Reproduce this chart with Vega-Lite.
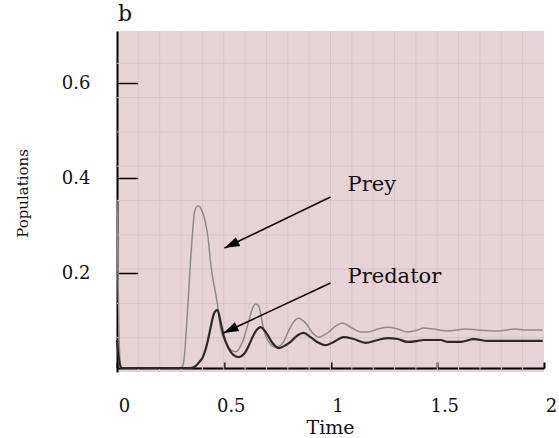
{
  "$schema": "https://vega.github.io/schema/vega-lite/v6.json",
  "width": 427,
  "height": 341,
  "autosize": {"type": "none"},
  "padding": {"left": 117, "top": 31, "right": 15, "bottom": 66},
  "background": "white",
  "title": {"text": "b", "anchor": "start", "frame": "group", "font": "DejaVu Serif", "fontSize": 22, "fontWeight": "normal", "color": "#111", "offset": 5, "dx": 1},
  "config": {
    "view": {"fill": "#e6d3d5", "stroke": null}
  },
  "datasets": {
    "vgrid": [{"g":0.1},{"g":0.2},{"g":0.3},{"g":0.4},{"g":0.5},{"g":0.6},{"g":0.7},{"g":0.8},{"g":0.9},{"g":1.0},{"g":1.1},{"g":1.2},{"g":1.3},{"g":1.4},{"g":1.5},{"g":1.6},{"g":1.7},{"g":1.8},{"g":1.9}],
    "hgrid": [{"h":0.0638},{"h":0.1360},{"h":0.2082},{"h":0.2804},{"h":0.3526},{"h":0.4248},{"h":0.4971},{"h":0.5693},{"h":0.6415}],
    "prey": [
      {"t":0,"v":0.354},{"t":0.004,"v":0.227},{"t":0.009,"v":0.08},{"t":0.014,"v":0.017},{"t":0.021,"v":0.0},
      {"t":0.297,"v":0.0},{"t":0.307,"v":0.004},{"t":0.316,"v":0.027},{"t":0.325,"v":0.084},{"t":0.335,"v":0.154},
      {"t":0.344,"v":0.223},{"t":0.353,"v":0.28},{"t":0.361,"v":0.322},{"t":0.372,"v":0.339},{"t":0.382,"v":0.341},
      {"t":0.396,"v":0.333},{"t":0.414,"v":0.307},{"t":0.428,"v":0.269},{"t":0.438,"v":0.223},{"t":0.457,"v":0.168},
      {"t":0.471,"v":0.133},{"t":0.485,"v":0.084},{"t":0.508,"v":0.055},{"t":0.532,"v":0.038},{"t":0.555,"v":0.034},
      {"t":0.588,"v":0.055},{"t":0.616,"v":0.097},{"t":0.635,"v":0.126},{"t":0.649,"v":0.135},{"t":0.663,"v":0.131},
      {"t":0.686,"v":0.084},{"t":0.71,"v":0.055},{"t":0.743,"v":0.044},{"t":0.78,"v":0.055},{"t":0.799,"v":0.074},
      {"t":0.827,"v":0.097},{"t":0.85,"v":0.105},{"t":0.883,"v":0.095},{"t":0.916,"v":0.074},{"t":0.944,"v":0.065},
      {"t":0.986,"v":0.074},{"t":1.024,"v":0.088},{"t":1.057,"v":0.095},{"t":1.094,"v":0.086},{"t":1.141,"v":0.076},
      {"t":1.174,"v":0.076},{"t":1.221,"v":0.082},{"t":1.268,"v":0.086},{"t":1.315,"v":0.082},{"t":1.361,"v":0.076},
      {"t":1.408,"v":0.08},{"t":1.436,"v":0.084},{"t":1.483,"v":0.082},{"t":1.549,"v":0.078},{"t":1.633,"v":0.082},
      {"t":1.69,"v":0.08},{"t":1.783,"v":0.078},{"t":1.868,"v":0.082},{"t":1.905,"v":0.08},{"t":1.994,"v":0.08}
    ],
    "pred": [
      {"t":0,"v":0.059},{"t":0.011,"v":0.013},{"t":0.021,"v":0.0},{"t":0.344,"v":0.0},{"t":0.368,"v":0.004},
      {"t":0.386,"v":0.013},{"t":0.4,"v":0.021},{"t":0.414,"v":0.038},{"t":0.424,"v":0.055},{"t":0.438,"v":0.084},
      {"t":0.452,"v":0.112},{"t":0.461,"v":0.12},{"t":0.471,"v":0.122},{"t":0.485,"v":0.097},{"t":0.499,"v":0.069},
      {"t":0.522,"v":0.042},{"t":0.546,"v":0.027},{"t":0.569,"v":0.023},{"t":0.602,"v":0.034},{"t":0.625,"v":0.055},
      {"t":0.639,"v":0.069},{"t":0.658,"v":0.082},{"t":0.672,"v":0.086},{"t":0.696,"v":0.076},{"t":0.728,"v":0.053},
      {"t":0.757,"v":0.042},{"t":0.79,"v":0.048},{"t":0.813,"v":0.055},{"t":0.846,"v":0.069},{"t":0.874,"v":0.074},
      {"t":0.907,"v":0.065},{"t":0.944,"v":0.053},{"t":0.977,"v":0.048},{"t":1.015,"v":0.055},{"t":1.061,"v":0.065},
      {"t":1.108,"v":0.061},{"t":1.164,"v":0.053},{"t":1.221,"v":0.059},{"t":1.268,"v":0.063},{"t":1.315,"v":0.061},
      {"t":1.361,"v":0.055},{"t":1.408,"v":0.057},{"t":1.436,"v":0.059},{"t":1.516,"v":0.059},{"t":1.549,"v":0.055},
      {"t":1.61,"v":0.055},{"t":1.671,"v":0.061},{"t":1.736,"v":0.057},{"t":1.844,"v":0.057},{"t":1.994,"v":0.057}
    ],
    "arrows": [
      {"x1":1.0,"y1":0.36,"x2":0.5035,"y2":0.2526},
      {"x1":1.0,"y1":0.179,"x2":0.4988,"y2":0.0737}
    ],
    "labels": [
      {"lx":1.08,"ly":0.3726,"txt":"Prey"},
      {"lx":1.08,"ly":0.179,"txt":"Predator"}
    ]
  },
  "layer": [
    {
      "data": {"name": "vgrid"},
      "mark": {"type": "rule", "color": "#d9c3c6", "strokeWidth": 1},
      "encoding": {"x": {"field": "g", "type": "quantitative", "scale": {"domain": [0, 2], "nice": false, "zero": false},
        "axis": {
          "title": "Time",
          "values": [0, 0.5, 1, 1.5, 2], "format": "~g", "grid": false,
          "tickSize": -6, "tickWidth": 2, "tickColor": "#000",
          "domainColor": "#000", "domainWidth": 2, "offset": -4,
          "labelFont": "DejaVu Serif", "labelFontSize": 18, "labelColor": "#111",
          "labelPadding": 35, "labelOffset": 7, "labelFlush": false, "labelOverlap": false,
          "titleFont": "DejaVu Serif", "titleFontSize": 19, "titleFontWeight": "normal", "titleColor": "#111",
          "titleX": 213, "titleY": 65, "titleBaseline": "alphabetic", "titleAlign": "center"
        }}}
    },
    {
      "data": {"name": "hgrid"},
      "mark": {"type": "rule", "color": "#d9c3c6", "strokeWidth": 1},
      "encoding": {"y": {"field": "h", "type": "quantitative", "scale": {"domain": [-0.0084, 0.7095], "nice": false, "zero": false},
        "axis": {
          "title": "Populations",
          "values": [0.2, 0.4, 0.6], "format": "~g", "grid": false,
          "tickSize": -21, "tickWidth": 1.5, "tickColor": "#000",
          "domainColor": "#000", "domainWidth": 2,
          "labelFont": "DejaVu Serif", "labelFontSize": 18, "labelColor": "#111",
          "labelPadding": 48, "labelOverlap": false, "labelFlush": false,
          "titleFont": "DejaVu Serif", "titleFontSize": 15, "titleFontWeight": "normal", "titleColor": "#111",
          "titleX": -95, "titleY": 162, "titleAngle": -90, "titleAlign": "center", "titleBaseline": "middle"
        }}}
    },
    {
      "data": {"name": "prey"},
      "mark": {"type": "line", "color": "#8c8c8c", "strokeWidth": 1.5, "interpolate": "monotone"},
      "encoding": {
        "x": {"field": "t", "type": "quantitative", "scale": {"domain": [0, 2], "nice": false, "zero": false}},
        "y": {"field": "v", "type": "quantitative", "scale": {"domain": [-0.0084, 0.7095], "nice": false, "zero": false}}
      }
    },
    {
      "data": {"name": "pred"},
      "mark": {"type": "line", "color": "#2a2a2a", "strokeWidth": 2.2, "interpolate": "monotone"},
      "encoding": {
        "x": {"field": "t", "type": "quantitative", "scale": {"domain": [0, 2], "nice": false, "zero": false}},
        "y": {"field": "v", "type": "quantitative", "scale": {"domain": [-0.0084, 0.7095], "nice": false, "zero": false}}
      }
    },
    {
      "data": {"name": "arrows"},
      "mark": {"type": "rule", "color": "#000", "strokeWidth": 1.5},
      "encoding": {
        "x": {"field": "x1", "type": "quantitative", "scale": {"domain": [0, 2], "nice": false, "zero": false}},
        "y": {"field": "y1", "type": "quantitative", "scale": {"domain": [-0.0084, 0.7095], "nice": false, "zero": false}},
        "x2": {"field": "x2"},
        "y2": {"field": "y2"}
      }
    },
    {
      "data": {"name": "arrows"},
      "mark": {"type": "point", "shape": "M0,0L2,-0.65L2,0.65Z", "size": 225, "filled": true, "color": "#000", "opacity": 1, "angle": 334.5},
      "encoding": {
        "x": {"field": "x2", "type": "quantitative", "scale": {"domain": [0, 2], "nice": false, "zero": false}},
        "y": {"field": "y2", "type": "quantitative", "scale": {"domain": [-0.0084, 0.7095], "nice": false, "zero": false}}
      }
    },
    {
      "data": {"name": "labels"},
      "mark": {"type": "text", "font": "DejaVu Serif", "fontSize": 21, "color": "#111", "align": "left", "baseline": "alphabetic"},
      "encoding": {
        "x": {"field": "lx", "type": "quantitative", "scale": {"domain": [0, 2], "nice": false, "zero": false}},
        "y": {"field": "ly", "type": "quantitative", "scale": {"domain": [-0.0084, 0.7095], "nice": false, "zero": false}},
        "text": {"field": "txt"}
      }
    }
  ]
}
